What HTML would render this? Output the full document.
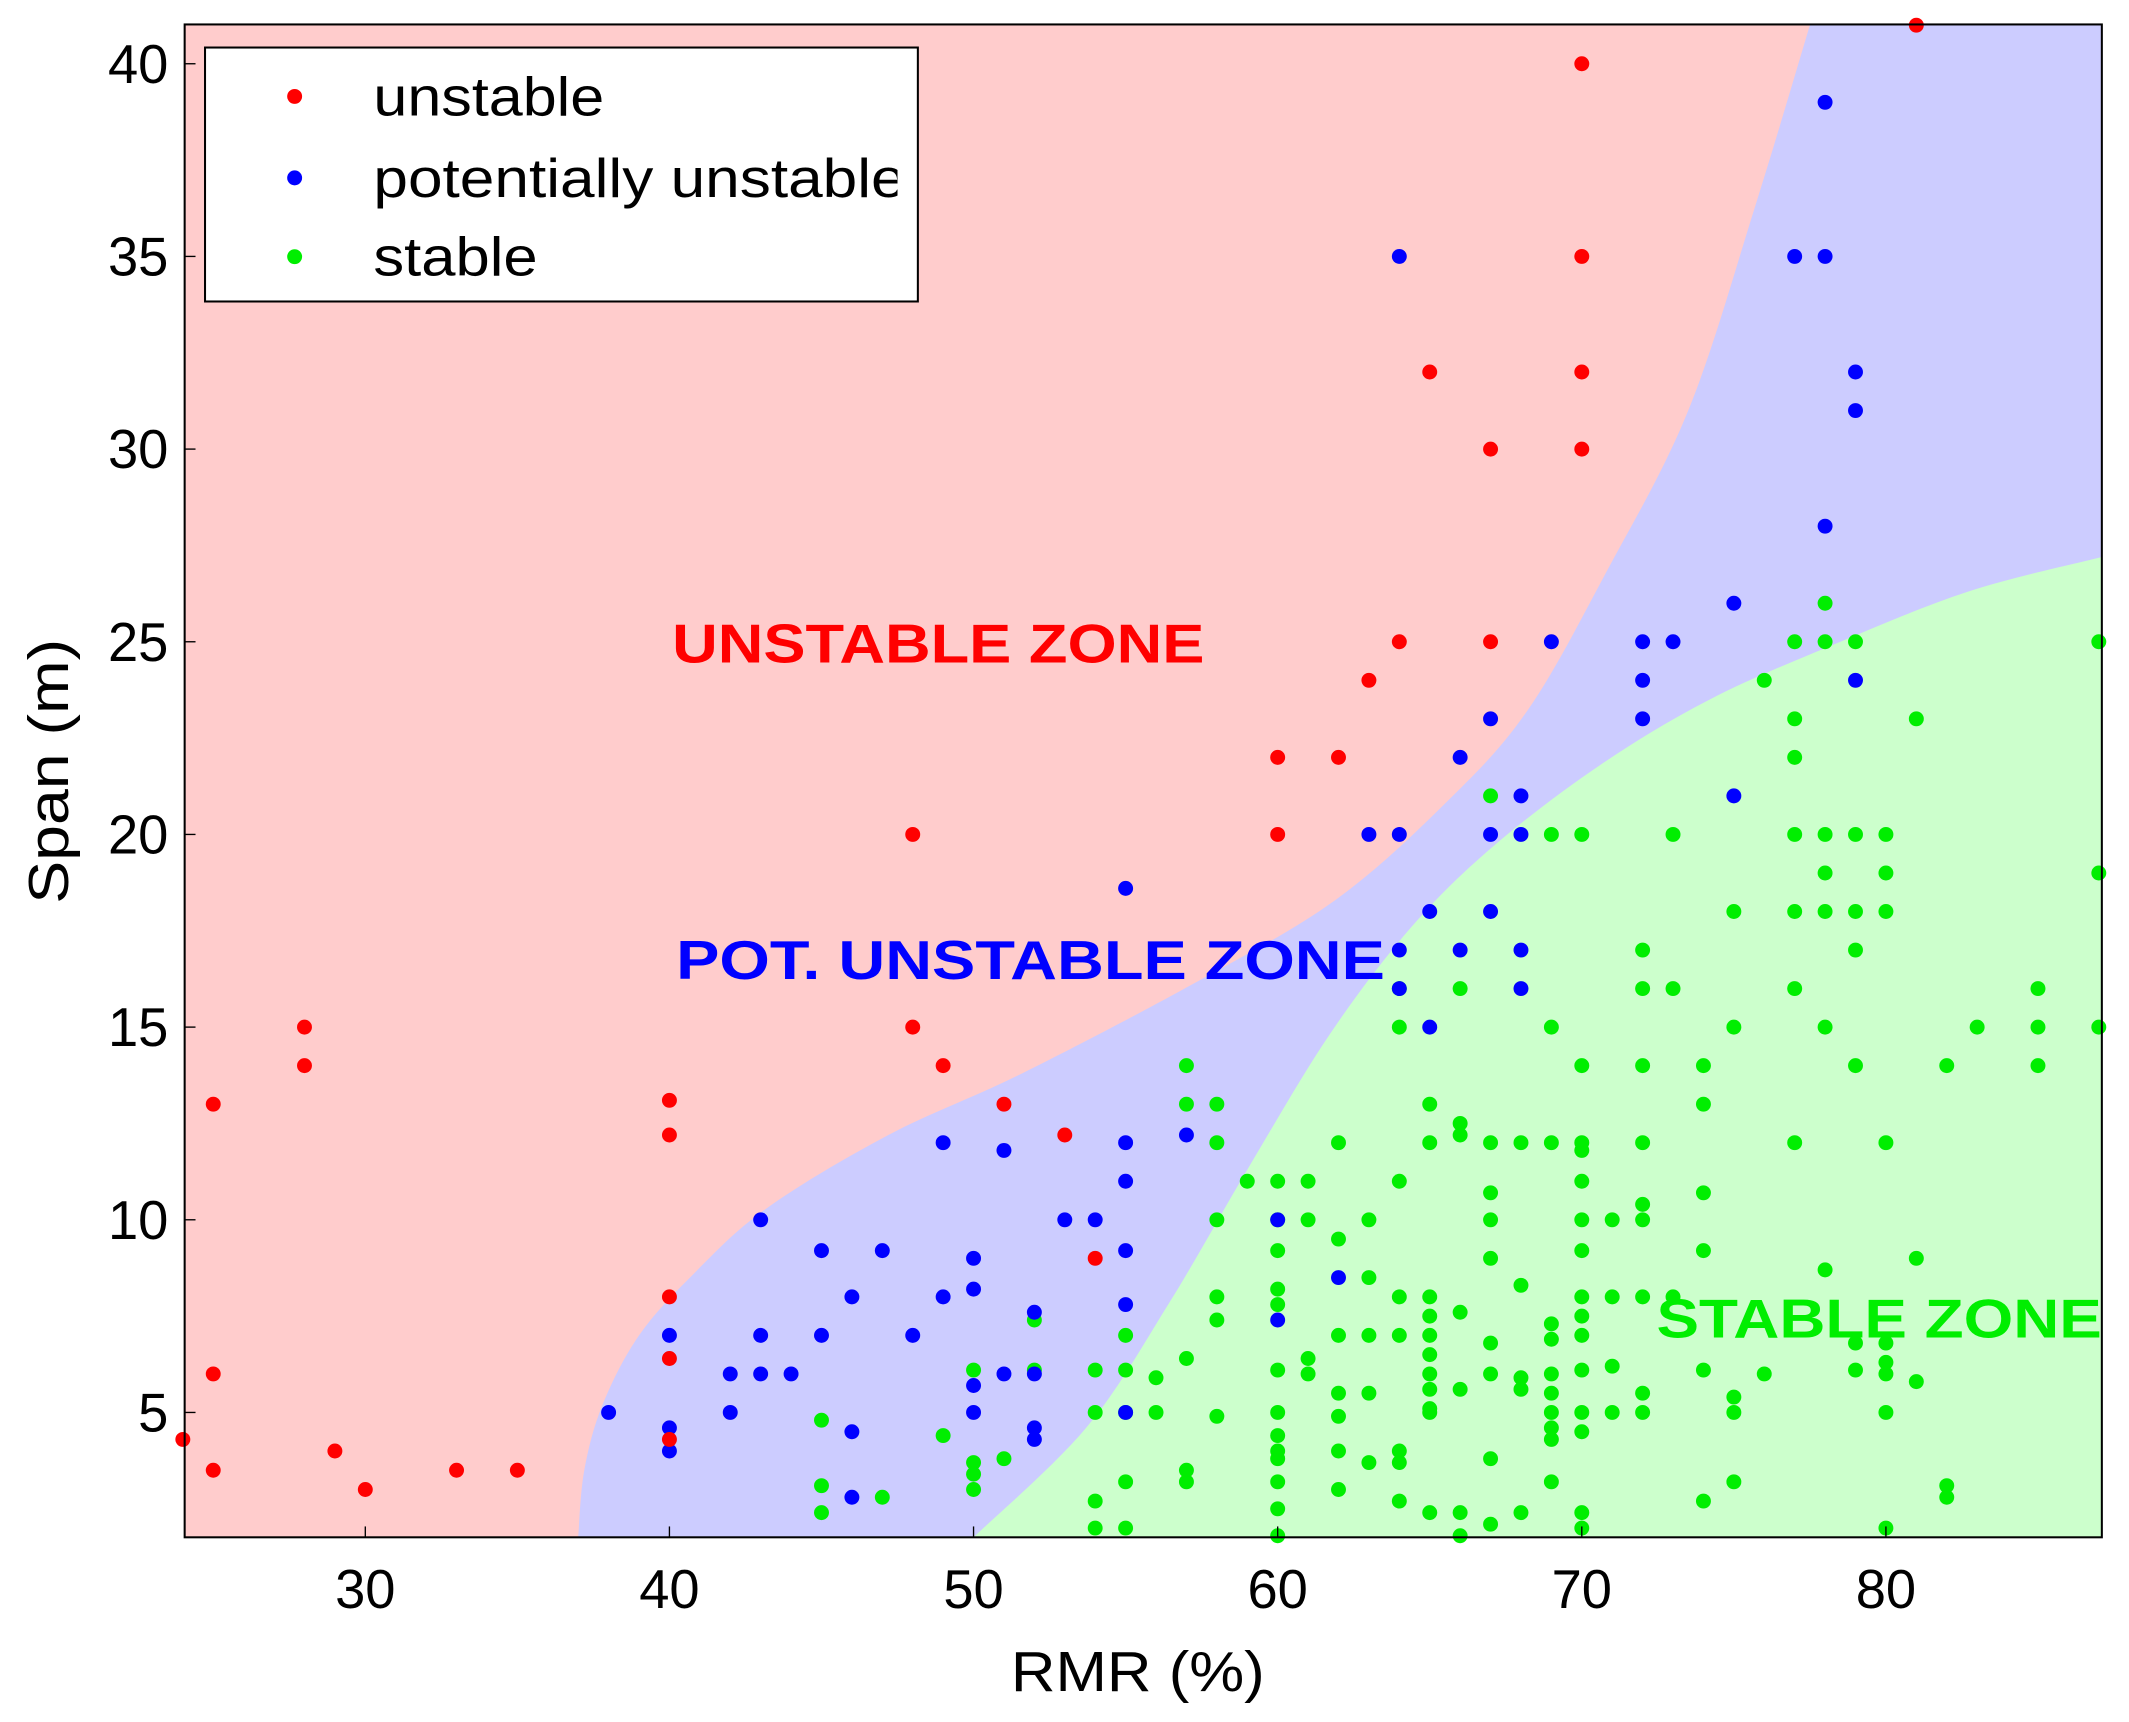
<!DOCTYPE html>
<html><head><meta charset="utf-8"><style>
html,body{margin:0;padding:0;background:#fff;}
svg{display:block;font-family:"Liberation Sans",sans-serif;}
</style></head><body>
<svg id="chart" width="2129" height="1722" viewBox="0 0 1568 1268" preserveAspectRatio="none" xmlns="http://www.w3.org/2000/svg">
<defs><clipPath id="legclip"><rect x="151" y="35" width="510" height="187"/></clipPath></defs>
<g id="zones"></g>
<g id="points"></g>
<rect x="136" y="18" width="1412" height="1114" fill="none" stroke="#000" stroke-width="1.5"/>
<g id="xticks"></g>
<g id="yticks"></g>
<text x="838" y="1245" font-size="42" text-anchor="middle" textLength="187" lengthAdjust="spacingAndGlyphs">RMR (%)</text>
<text transform="translate(50,568) rotate(-90)" font-size="42" text-anchor="middle" textLength="195" lengthAdjust="spacingAndGlyphs">Span (m)</text>
<text x="495" y="488" font-size="40" font-weight="bold" fill="#ff0000" textLength="392" lengthAdjust="spacingAndGlyphs">UNSTABLE  ZONE</text>
<text x="498" y="721" font-size="40" font-weight="bold" fill="#0000ff" textLength="522" lengthAdjust="spacingAndGlyphs">POT.  UNSTABLE  ZONE</text>
<text x="1220" y="985" font-size="40" font-weight="bold" fill="#00ee00" textLength="328" lengthAdjust="spacingAndGlyphs">STABLE  ZONE</text>
<g>
<rect x="151" y="35" width="525" height="187" fill="#fff" stroke="#000" stroke-width="1.5"/>
<g clip-path="url(#legclip)">
<circle cx="217" cy="71" r="5.5" fill="#ff0000"/><text x="275" y="85" font-size="40" textLength="170" lengthAdjust="spacingAndGlyphs">unstable</text>
<circle cx="217" cy="131" r="5.5" fill="#0000ff"/><text x="275" y="145" font-size="40" textLength="392" lengthAdjust="spacingAndGlyphs">potentially unstable</text>
<circle cx="217" cy="189" r="5.5" fill="#00ee00"/><text x="275" y="203" font-size="40" textLength="121" lengthAdjust="spacingAndGlyphs">stable</text>
</g>
</g>
</svg>
<script>
const xTicks=[30,40,50,60,70,80];
const yTicks=[5,10,15,20,25,30,35,40];
const boundaryUnstable=[[37.0,1.76],[37.2,3.5],[37.8,5.2],[39.0,7.0],[40.8,8.6],[43.2,10.3],[47.2,12.2],[51.6,13.8],[57.4,16.2],[61.9,18.3],[65.5,20.8],[68.2,23.2],[70.8,26.8],[73.5,31.0],[75.7,36.3],[77.5,41.0]];
const boundaryStable=[[50,1.76],[53.7,4.6],[56.4,7.8],[59.0,11.3],[61.7,14.8],[64.4,17.6],[67.1,19.7],[70.6,21.8],[74.2,23.5],[78.2,24.9],[82.7,26.3],[87.1,27.2]];
const unstablePts=[[24,4.3],[25,13],[25,6],[25,3.5],[28,15],[28,14],[29,4],[30,3],[33,3.5],[35,3.5],[40,13.1],[40,12.2],[40,8],[40,6.4],[40,4.3],[48,20],[48,15],[49,14],[51,13],[53,12.2],[54,9],[60,22],[60,20],[62,22],[63,24],[64,25],[65,32],[67,30],[67,25],[70,40],[70,35],[70,32],[70,30],[81,41]];
const potUnstablePts=[[38,5],[40,7],[40,4.6],[40,4],[42,5],[42,6],[43,10],[43,7],[43,6],[44,6],[45,9.2],[45,7],[46,8],[46,4.5],[46,2.8],[47,9.2],[48,7],[49,8],[49,12],[50,9],[50,8.2],[50,5.7],[50,5],[51,11.8],[51,6],[52,7.6],[52,6],[52,4.6],[52,4.3],[53,10],[54,10],[55,18.6],[55,12],[55,11],[55,9.2],[55,7.8],[55,5],[57,12.2],[60,10],[60,7.4],[62,8.5],[63,20],[64,35],[64,20],[64,17],[64,16],[65,18],[65,15],[66,22],[66,17],[67,23],[67,20],[67,18],[68,21],[68,20],[68,17],[68,16],[69,25],[72,25],[72,24],[72,23],[73,25],[75,26],[75,21],[77,35],[78,39],[78,35],[78,28],[79,32],[79,31],[79,24]];
const stableGroups=[[45,[4.8,3.1,2.4]],[47,[2.8]],[49,[4.4]],[50,[6.1,3.7,3.4,3.0]],[51,[3.8]],[52,[7.4,6.1]],[54,[6.1,5.0,2.7,2.0]],[55,[7.0,6.1,5.0,3.2,2.0]],[56,[5.9,5.0]],[57,[14,13,6.4,3.5,3.2]],[58,[13,12,10,8,7.4,4.9]],[59,[11]],[60,[11,10,9.2,8.2,7.8,6.1,5.0,4.4,4.0,3.8,3.2,2.5,1.8]],[61,[11,10,6.4,6.0]],[62,[12,9.5,7.0,5.5,4.9,4.0,3.0]],[63,[10,8.5,7.0,5.5,3.7]],[64,[16,15,11,8,7,4.0,3.7,2.7]],[65,[13,12,8,7.5,7.0,6.5,6.0,5.6,5.1,5.0,2.4]],[66,[16,12.5,12.2,7.6,5.6,2.4,1.8]],[67,[21,12,10.7,10,9.0,6.8,6.0,3.8,2.1]],[68,[12,8.3,5.9,5.6,2.4]],[69,[20,15,12,7.3,6.9,6.0,5.5,5.0,4.6,4.3,3.2]],[70,[20,14,12,11.8,11,10,9.2,8,7.5,7.0,6.1,5.0,4.5,2.4,2.0]],[71,[10,8,6.2,5.0]],[72,[17,16,14,12,10.4,10,8,5.5,5.0]],[73,[20,16,8]],[74,[14,13,10.7,9.2,6.1,2.7]],[75,[18,15,5.4,5.0,3.2]],[76,[24,6.0]],[77,[25,23,22,20,18,16,12]],[78,[26,25,20,19,18,15,8.7]],[79,[25,20,18,17,14,6.8,6.1]],[80,[20,19,18,12,6.8,6.3,6.0,5.0,2.0]],[81,[23,9,5.8]],[82,[14,3.1,2.8]],[83,[15]],[85,[16,15,14]],[87,[25,19,15]]];

const X0=136,X1=1548,Y0=1132,Y1=18,xmin=24.06,xmax=87.1,ymin=1.76,ymax=41.02;
const sx=v=>X0+(v-xmin)/(xmax-xmin)*(X1-X0);
const sy=v=>Y0-(v-ymin)/(ymax-ymin)*(Y0-Y1);
const NS="http://www.w3.org/2000/svg";
function mk(tag,attrs,parent){const e=document.createElementNS(NS,tag);for(const k in attrs)e.setAttribute(k,attrs[k]);parent.appendChild(e);return e;}
function smooth(arr){const p=arr.map(d=>[sx(d[0]),sy(d[1])]);let s='M'+p[0][0]+','+p[0][1];
for(let i=0;i<p.length-1;i++){const a=p[Math.max(0,i-1)],b=p[i],c=p[i+1],d=p[Math.min(p.length-1,i+2)];
s+=' C'+(b[0]+(c[0]-a[0])/6)+','+(b[1]+(c[1]-a[1])/6)+' '+(c[0]-(d[0]-b[0])/6)+','+(c[1]-(d[1]-b[1])/6)+' '+c[0]+','+c[1];}return s;}
const zones=document.getElementById('zones');
let r=mk('rect',{x:X0,y:Y1,width:X1-X0,height:Y0-Y1,fill:'#ffcccc'},zones);


let b=mk('path',{d:smooth(boundaryUnstable)+' L'+X1+','+Y1+' L'+X1+','+Y0+' Z',fill:'#ccccff'},zones);


let g=mk('path',{d:smooth(boundaryStable)+' L'+X1+','+Y0+' Z',fill:'#ccffcc'},zones);


const pts=document.getElementById('points');
function dot(x,y,c,n){const e=mk('circle',{cx:sx(x),cy:sy(y),r:5.5,fill:c},pts);

}
stableGroups.forEach(gr=>gr[1].forEach(y=>dot(gr[0],y,'#00ee00','stable-point')));
potUnstablePts.forEach(p=>dot(p[0],p[1],'#0000ff','pot-unstable-point'));
unstablePts.forEach(p=>dot(p[0],p[1],'#ff0000','unstable-point'));
const xt=document.getElementById('xticks');
xTicks.forEach(v=>{const t=mk('text',{x:sx(v),y:1184,'font-size':40,'text-anchor':'middle'},xt);t.textContent=v;


mk('line',{x1:sx(v),x2:sx(v),y1:Y0,y2:Y0-8,stroke:'#000'},xt);});
const yt=document.getElementById('yticks');
yTicks.forEach(v=>{const t=mk('text',{x:124,y:sy(v)+14,'font-size':40,'text-anchor':'end'},yt);t.textContent=v;


mk('line',{x1:X0,x2:X0+8,y1:sy(v),y2:sy(v),stroke:'#000'},yt);});
</script>
</body></html>
